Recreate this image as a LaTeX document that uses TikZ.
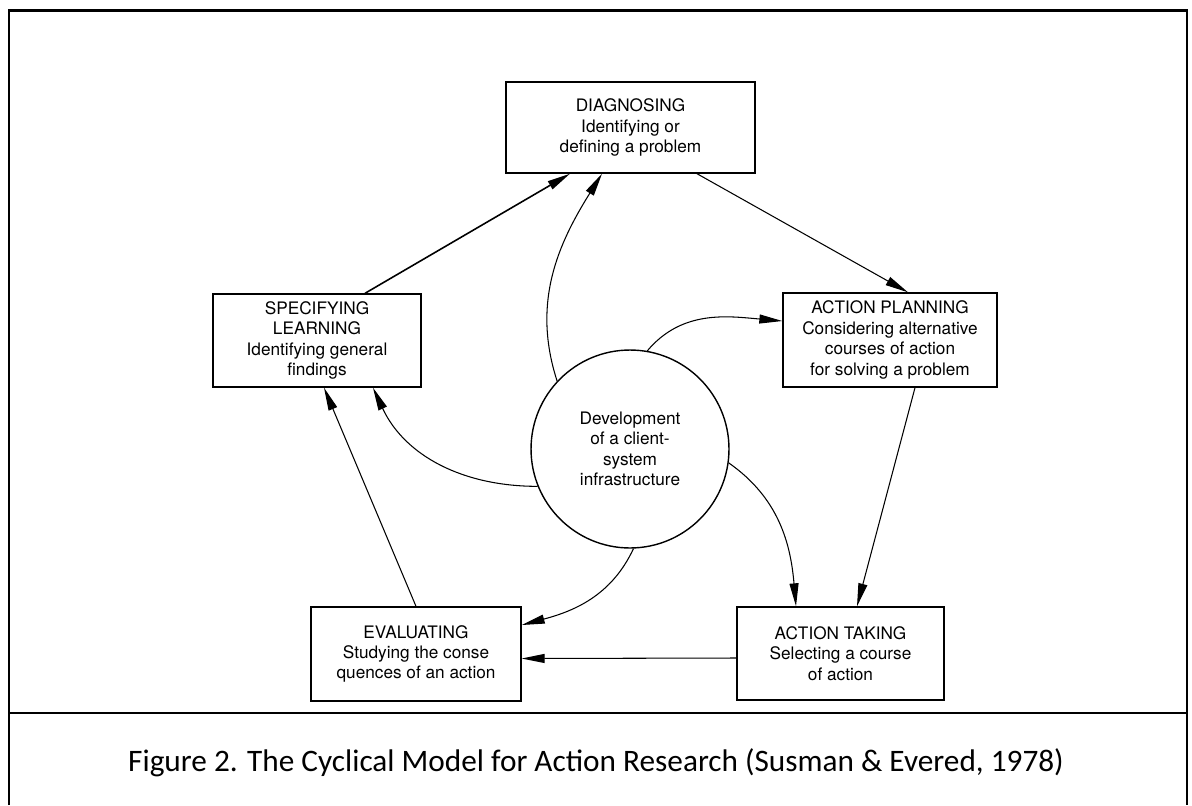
\documentclass[tikz,border=0pt]{standalone}
\usepackage{fontspec}
\setmainfont{TeX Gyre Heros}
\newfontfamily\captionfont{Carlito}
\usetikzlibrary{arrows.meta}

\begin{document}
\begin{tikzpicture}[x=0.02cm, y=-0.02cm,
	stage/.style={rectangle, draw, line width=0.8pt, align=center, inner sep=0pt, font=\fontsize{9.8}{11.6}\selectfont},
	hub/.style={circle, draw, line width=0.8pt, align=center, minimum size=3.96cm, inner sep=0pt, font=\fontsize{9.8}{11.6}\selectfont},
	link/.style={line width=0.6pt, -{Triangle[length=4.6mm, width=1.8mm]}},
	frameline/.style={line width=1.2pt}]
			\useasboundingbox (0,0) rectangle (1192,805);
			\draw[frameline] (9,805) -- (9,10.5) -- (1187,10.5) -- (1187,805);
			\draw[frameline] (9,713) -- (1187,713);
			
			\node[stage, minimum width=4.98cm, minimum height=1.82cm] (diag) at (630.5,127.5) {DIAGNOSING\\Identifying or\\defining a problem};
			\node[stage, minimum width=4.16cm, minimum height=1.86cm] (spec) at (317,340.5) {SPECIFYING\\LEARNING\\Identifying general\\findings};
			\node[stage, minimum width=4.28cm, minimum height=1.88cm] (plan) at (890,340) {ACTION PLANNING\\Considering alternative\\courses of action\\for solving a problem};
			\node[stage, minimum width=4.2cm, minimum height=1.88cm] (eval) at (416,654) {EVALUATING\\Studying the conse\\quences of an action};
			\node[stage, minimum width=4.14cm, minimum height=1.86cm] (take) at (840.5,653.5) {ACTION TAKING\\Selecting a course\\of action};
			\node[hub] (core) at (630,449) {Development\\of a client-\\system\\infrastructure};
			
			\draw[link, line width=0.9pt] ([xshift=0.96cm]spec.north) -- ([xshift=-1.21cm]diag.south);
			\draw[link] (core.137.5) to[out=108, in=238] ([xshift=-0.57cm]diag.south);
			\draw[link] ([xshift=1.33cm]diag.south) -- ([xshift=0.36cm]plan.north);
			\draw[link] (core.80) to[out=50, in=175] ([yshift=0.38cm]plan.west);
			\draw[link] ([xshift=0.5cm]plan.south) -- ([xshift=0.33cm]take.north);
			\draw[link] (core.-8) to[out=-35, in=95] ([xshift=-0.89cm]take.north);
			\draw[link] ([yshift=-0.09cm]take.west) -- ([yshift=-0.09cm]eval.east);
			\draw[link] (core.-88) to[out=-115, in=15] ([yshift=0.58cm]eval.east);
			\draw[link] (eval.north) -- ([xshift=0.14cm]spec.south);
			\draw[link] (core.-158) to[out=180, in=-65] ([xshift=1.12cm]spec.south);
			
			\node[font=\captionfont\fontsize{17.8}{21}\selectfont] (caption) at (596,763) {Figure 2. The Cyclical Model for Action Research (Susman \& Evered, 1978)};
		\end{tikzpicture}
\end{document}
